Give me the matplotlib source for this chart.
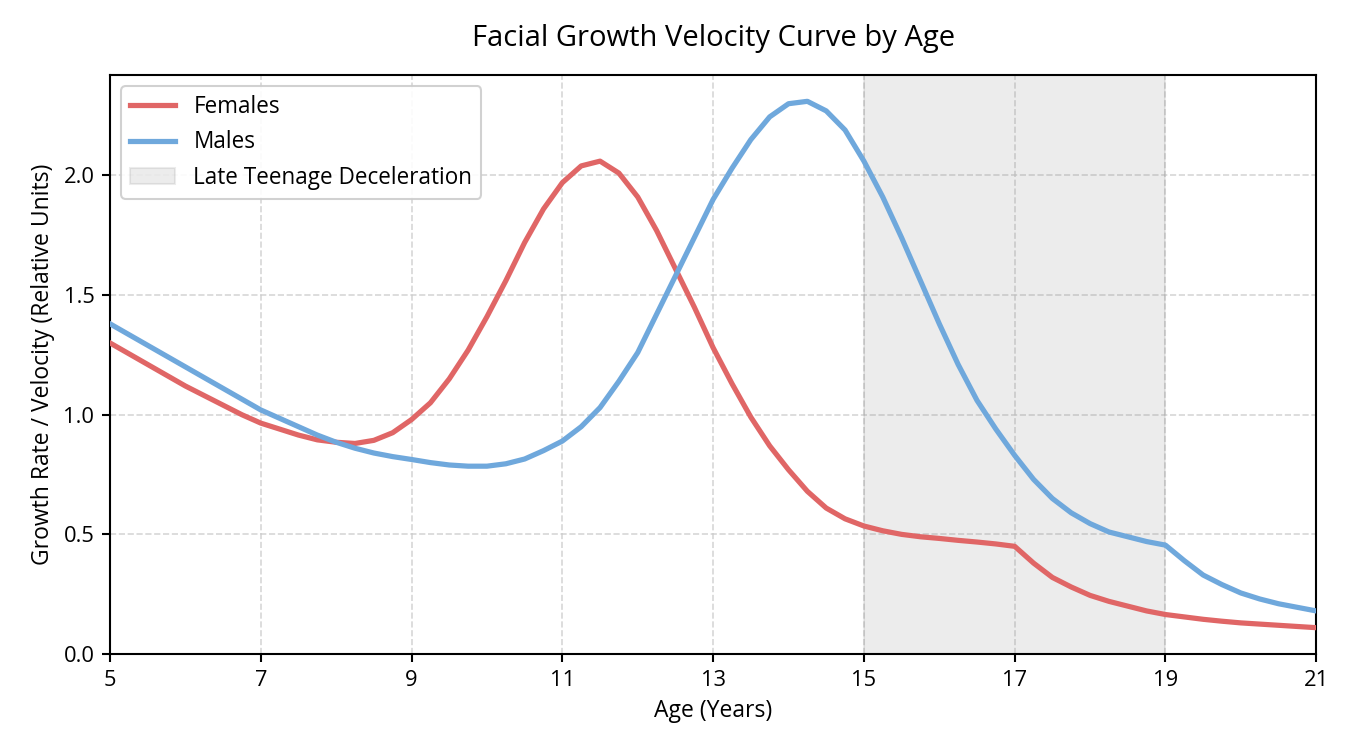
import numpy as np
import matplotlib
matplotlib.use("Agg")
import matplotlib.pyplot as plt

plt.rcParams['font.family'] = ['Open Sans', 'DejaVu Sans']

# ages sampled every quarter year
ages = np.arange(5, 21.01, 0.25)

females = [1.30, 1.255, 1.21, 1.165, 1.12, 1.08, 1.04, 1.00,
           0.965, 0.94, 0.915, 0.895, 0.885, 0.88, 0.893, 0.925,
           0.98, 1.05, 1.15, 1.27, 1.41, 1.56, 1.72, 1.86,
           1.97, 2.04, 2.06, 2.01, 1.91, 1.77, 1.61, 1.45,
           1.28, 1.13, 0.99, 0.87, 0.77, 0.68, 0.61, 0.565,
           0.535, 0.515, 0.50, 0.49, 0.483, 0.475, 0.468, 0.46,
           0.45, 0.38, 0.32, 0.28, 0.245, 0.22, 0.20, 0.18,
           0.165, 0.155, 0.145, 0.137, 0.13, 0.125, 0.12, 0.115,
           0.11]

males = [1.38, 1.335, 1.29, 1.245, 1.20, 1.155, 1.11, 1.065,
         1.02, 0.985, 0.95, 0.915, 0.885, 0.86, 0.84, 0.825,
         0.813, 0.80, 0.79, 0.785, 0.785, 0.795, 0.815, 0.85,
         0.89, 0.95, 1.03, 1.14, 1.26, 1.42, 1.58, 1.74,
         1.90, 2.03, 2.15, 2.245, 2.30, 2.31, 2.27, 2.19,
         2.06, 1.91, 1.74, 1.56, 1.38, 1.21, 1.06, 0.94,
         0.83, 0.73, 0.65, 0.59, 0.545, 0.51, 0.49, 0.47,
         0.455, 0.39, 0.33, 0.29, 0.255, 0.23, 0.21, 0.195,
         0.18]

span_start, span_end = 15, 19
xticks = [5, 7, 9, 11, 13, 15, 17, 19, 21]
yticks = [0.0, 0.5, 1.0, 1.5, 2.0]

fig, ax = plt.subplots(figsize=(9, 5), dpi=150)
fig.subplots_adjust(left=0.0815, right=0.975, top=0.9, bottom=0.128)

ax.plot(ages, females, color='#e06666', lw=2.5, label='Females', zorder=3)
ax.plot(ages, males, color='#6fa8dc', lw=2.5, label='Males', zorder=3)
ax.axvspan(span_start, span_end, color='gray', alpha=0.15, lw=1,
           label='Late Teenage Deceleration', zorder=1)

ax.set_xlim(5, 21)
ax.set_ylim(bottom=0)
ax.set_xticks(xticks)
ax.set_yticks(yticks)
ax.grid(True, linestyle='--', color='#cccccc', alpha=0.8, lw=0.8, zorder=0)
ax.set_axisbelow(True)
ax.tick_params(labelsize=10.5, length=4, width=1)
for s in ax.spines.values():
    s.set_linewidth(1)

ax.set_title('Facial Growth Velocity Curve by Age', fontsize=14, pad=14)
ax.set_xlabel('Age (Years)', fontsize=11)
ax.set_ylabel('Growth Rate / Velocity (Relative Units)', fontsize=11)
ax.legend(loc='upper left', fontsize=10.8, framealpha=0.9, edgecolor='#cccccc')

fig.savefig('out.png', dpi=150)
